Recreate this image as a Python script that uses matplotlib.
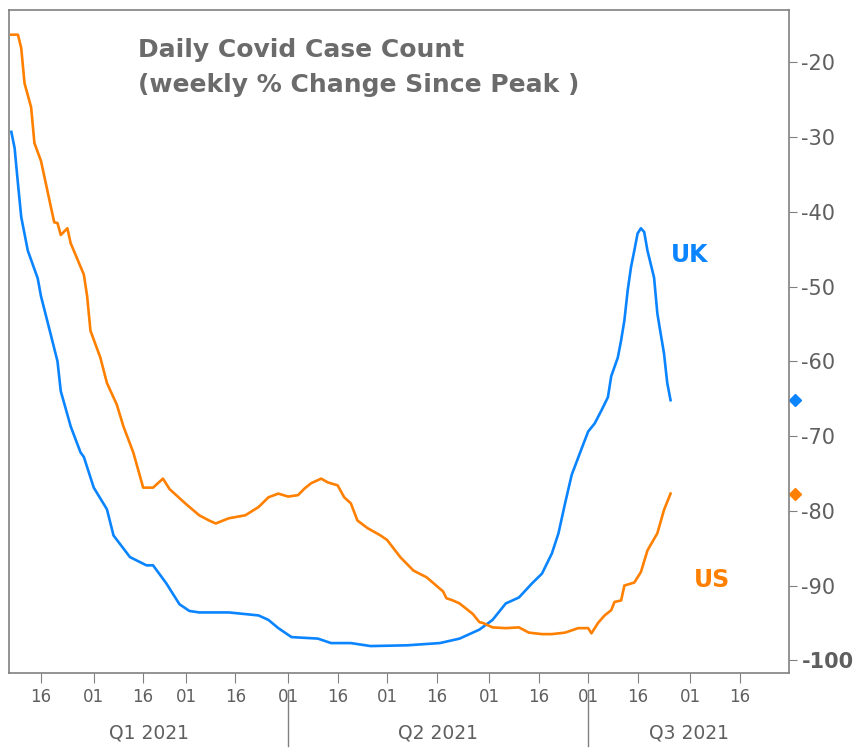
import pandas as pd
import numpy as np
import matplotlib
matplotlib.use('Agg')
import matplotlib.pyplot as plt
import matplotlib.dates as mdates
import matplotlib.transforms as mtransforms

plt.rcParams['font.family'] = 'DejaVu Sans'
plt.rcParams['axes.unicode_minus'] = False

# weekly % change since peak
uk_dates = ['01-07', '01-08', '01-09', '01-10', '01-12', '01-15', '01-16', '01-19', '01-21', '01-22',
            '01-25', '01-28', '01-29', '02-01', '02-05', '02-07', '02-12', '02-17', '02-19', '02-23',
            '02-27', '03-02', '03-05', '03-14', '03-23', '03-26', '03-29', '04-02', '04-10', '04-14',
            '04-20', '04-26', '05-07', '05-17', '05-23', '05-29', '06-02', '06-06', '06-10', '06-14',
            '06-17', '06-20', '06-22', '06-24', '06-26', '06-29', '07-01', '07-03', '07-05', '07-07',
            '07-08', '07-10', '07-11', '07-12', '07-13', '07-14', '07-15', '07-16', '07-17', '07-18',
            '07-19', '07-21', '07-22', '07-23', '07-24', '07-25', '07-26']
uk_vals = [-29.3, -31.5, -36.2, -40.7, -45.2, -48.9, -51.3, -56.5, -60.0, -64.0,
           -68.7, -72.2, -72.8, -76.9, -79.8, -83.3, -86.2, -87.3, -87.3, -89.7,
           -92.5, -93.4, -93.6, -93.6, -94.0, -94.6, -95.7, -96.9, -97.1, -97.7,
           -97.7, -98.1, -98.0, -97.7, -97.1, -95.9, -94.6, -92.4, -91.6, -89.7,
           -88.4, -85.7, -83.0, -79.0, -75.2, -71.7, -69.4, -68.3, -66.6, -64.8,
           -62.0, -59.5, -57.2, -54.5, -50.5, -47.4, -45.2, -42.9, -42.2, -42.7,
           -45.2, -48.8, -53.6, -56.3, -58.9, -62.9, -65.2]

us_dates = ['01-07', '01-09', '01-10', '01-11', '01-13', '01-14', '01-16', '01-18', '01-20', '01-21',
            '01-22', '01-24', '01-25', '01-29', '01-30', '01-31', '02-03', '02-05', '02-08', '02-10',
            '02-13', '02-16', '02-19', '02-22', '02-24', '02-27', '03-01', '03-05', '03-08', '03-10',
            '03-14', '03-19', '03-23', '03-26', '03-29', '04-01', '04-04', '04-06', '04-08', '04-11',
            '04-13', '04-16', '04-18', '04-20', '04-22', '04-25', '04-29', '05-01', '05-05', '05-09',
            '05-13', '05-18', '05-19', '05-21', '05-23', '05-27', '05-29', '05-30', '06-02', '06-06',
            '06-10', '06-13', '06-17', '06-20', '06-24', '06-28', '07-01', '07-02', '07-04', '07-06',
            '07-08', '07-09', '07-11', '07-12', '07-15', '07-17', '07-19', '07-22', '07-24', '07-26']
us_vals = [-16.3, -16.3, -18.1, -22.8, -26.0, -30.8, -33.2, -37.3, -41.4, -41.5,
           -43.1, -42.2, -44.2, -48.4, -51.3, -55.9, -59.5, -62.9, -65.8, -68.7,
           -72.2, -76.9, -76.9, -75.7, -77.1, -78.3, -79.1, -80.6, -81.3, -81.7,
           -81.0, -80.6, -79.5, -78.2, -77.7, -78.1, -77.9, -77.0, -76.3, -75.7,
           -76.2, -76.6, -78.2, -79.0, -81.3, -82.3, -83.3, -83.9, -86.2, -88.0,
           -88.9, -90.8, -91.7, -92.0, -92.4, -93.8, -94.9, -95.0, -95.6, -95.7,
           -95.6, -96.3, -96.5, -96.5, -96.3, -95.7, -95.7, -96.4, -95.0, -94.0,
           -93.3, -92.2, -92.0, -90.0, -89.6, -88.2, -85.3, -83.0, -79.9, -77.7]

quarters = ['Q1 2021', 'Q2 2021', 'Q3 2021']

uk = pd.Series(uk_vals, index=pd.to_datetime(['2021-' + d for d in uk_dates]))
us = pd.Series(us_vals, index=pd.to_datetime(['2021-' + d for d in us_dates]))

blue = '#0a84ff'
orange = '#ff8000'
grey = '#5f5f5f'

fig = plt.figure(figsize=(8.58, 7.48), dpi=100)
ax = fig.add_axes([0.0105, 0.1003, 0.909, 0.8863])

ax.plot(uk.index, uk.values, color=blue, lw=1.9)
ax.plot(us.index, us.values, color=orange, lw=1.9)

x0 = pd.Timestamp('2021-01-06 07:00')
x1 = pd.Timestamp('2021-08-30 22:00')
ax.set_xlim(x0, x1)
ax.set_ylim(-101.7, -13)

for s in ax.spines.values():
    s.set_color('#808080')
    s.set_linewidth(1.2)

ax.yaxis.tick_right()
ax.set_yticks(np.arange(-100, -10, 10))
ax.tick_params(axis='y', direction='out', length=6, color='#808080', labelsize=15,
               labelcolor=grey, pad=3)
for lab in ax.get_yticklabels():
    if lab.get_text() == '-100':
        lab.set_fontweight('bold')

ax.xaxis.set_major_locator(mdates.DayLocator(bymonthday=[1, 16]))
ax.xaxis.set_major_formatter(mdates.DateFormatter('%d'))
ax.tick_params(axis='x', direction='out', length=7, color='#808080', labelsize=12,
               labelcolor=grey, pad=4)

# quarter labels and separators under the day labels
trans = mtransforms.blended_transform_factory(ax.transData, ax.transAxes)
bounds = [x0, pd.Timestamp('2021-04-01'), pd.Timestamp('2021-07-01'), x1]
for i, q in enumerate(quarters):
    mid = bounds[i] + (bounds[i + 1] - bounds[i]) / 2
    ax.text(mid, -0.09, q, transform=trans, ha='center', va='center',
            fontsize=13.5, color=grey, clip_on=False)
for b in bounds[1:3]:
    ax.plot([b, b], [-0.025, -0.11], transform=trans, color='#808080', lw=1, clip_on=False)

# last-value markers on the right axis
ytrans = mtransforms.blended_transform_factory(ax.transAxes, ax.transData)
ax.plot([1.008], [uk.values[-1]], marker='D', ms=6, color=blue, transform=ytrans, clip_on=False)
ax.plot([1.008], [us.values[-1]], marker='D', ms=6, color=orange, transform=ytrans, clip_on=False)

ax.text(pd.Timestamp('2021-07-31 18:00'), -45.8, 'UK', color=blue, fontsize=17,
        fontweight='bold', ha='center', va='center')
ax.text(pd.Timestamp('2021-08-07 12:00'), -89.3, 'US', color=orange, fontsize=17,
        fontweight='bold', ha='center', va='center')

ax.text(0.165, 0.913, 'Daily Covid Case Count\n(weekly % Change Since Peak )',
        transform=ax.transAxes, ha='left', va='center', fontsize=18,
        fontweight='bold', color='#6b6b6b', linespacing=1.55)

fig.savefig('out.png', dpi=100)
